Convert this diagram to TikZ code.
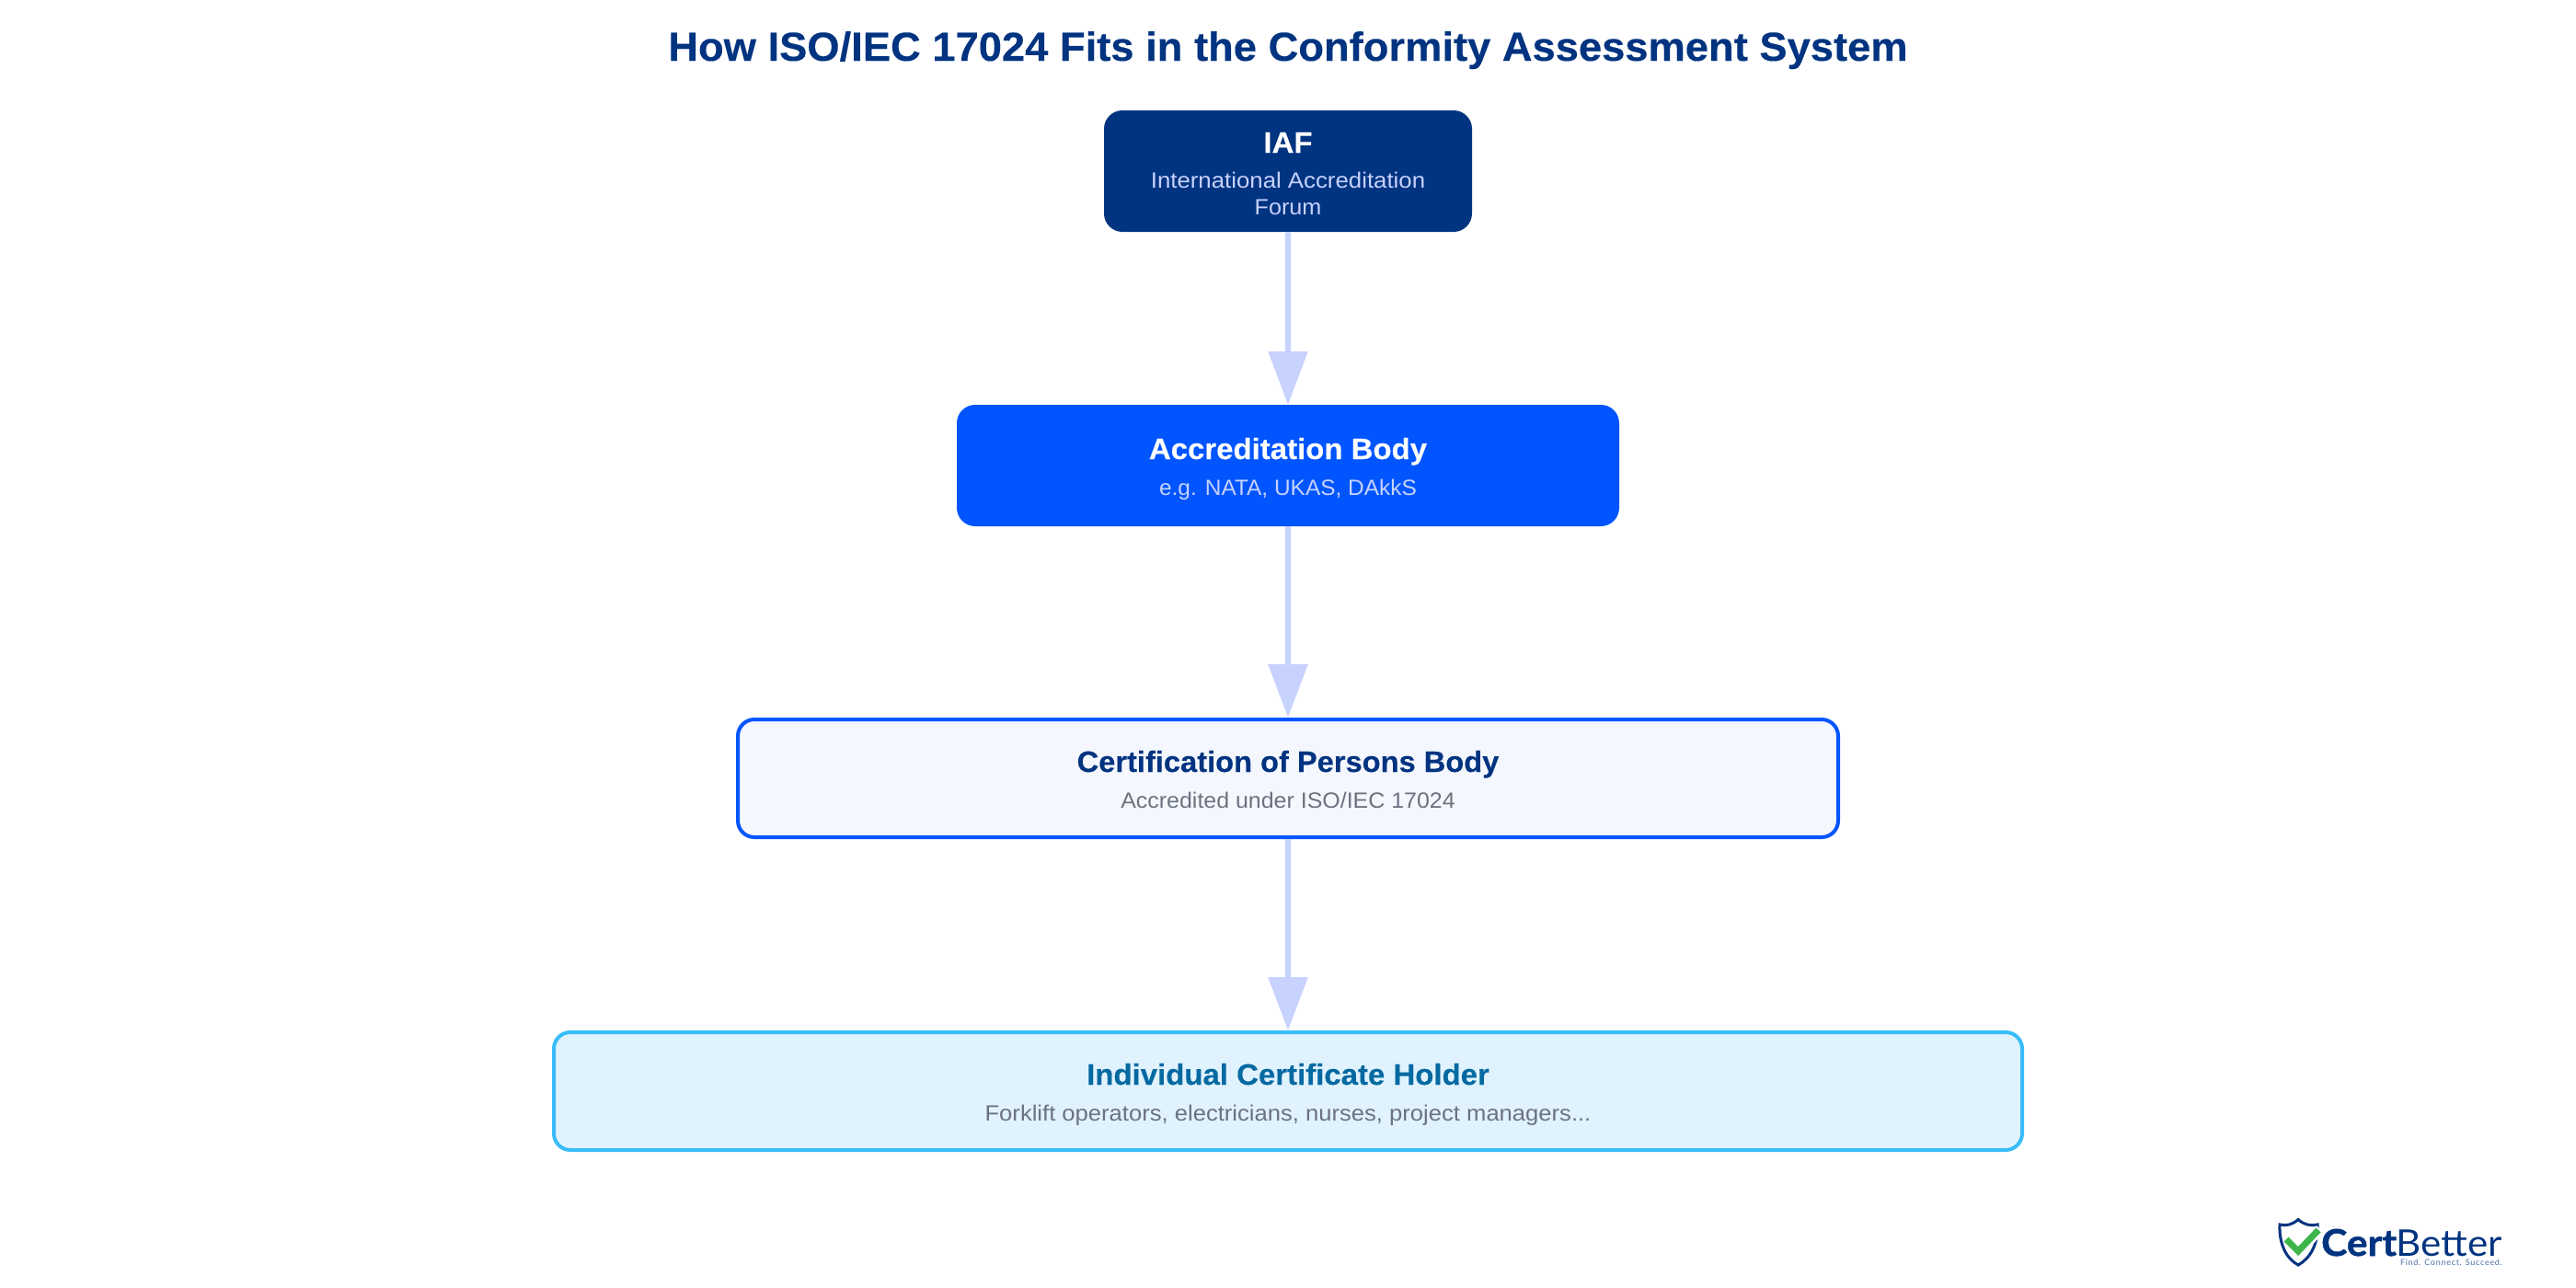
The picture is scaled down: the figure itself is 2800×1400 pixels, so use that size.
\documentclass[tikz,border=0pt]{standalone}
\usepackage{fontspec}
\setmainfont{Liberation Sans}
\newfontfamily\headfam{Liberation Sans Bold}[FakeStretch=1.03,FakeBold=0.25]
\newfontfamily\subfam{Liberation Sans}[FakeStretch=1.05]
\newfontfamily\logofont{Lato}[FakeStretch=1.05]
\newfontfamily\logoboldfont{Lato Bold}[FakeStretch=1.06,FakeBold=1.2]
\newfontfamily\tagfont{Lato}[LetterSpace=8]
\usetikzlibrary{arrows.meta}
\definecolor{navy}{HTML}{003380}
\definecolor{brightblue}{HTML}{0055FF}
\definecolor{paleblue}{HTML}{C7D2FE}
\definecolor{certfill}{HTML}{F5F7FF}
\definecolor{holderfill}{HTML}{E0F2FE}
\definecolor{holderline}{HTML}{38BDF8}
\definecolor{holdertext}{HTML}{0369A1}
\definecolor{greytext}{HTML}{6B7280}
\definecolor{logogreen}{HTML}{3DB54A}
\definecolor{tagblue}{HTML}{4A6FA5}
\tikzset{
  x=1pt,y=-1pt,
  flatbox/.style={rounded corners=20pt,minimum height=132pt,inner sep=0pt},
  linedbox/.style={rounded corners=18pt,minimum height=128pt,inner sep=0pt,line width=4pt},
  headtext/.style={anchor=base,inner sep=0pt,font=\headfam\fontsize{32}{38}\selectfont},
  subtext/.style={anchor=base,inner sep=0pt,font=\subfam\fontsize{24}{30}\selectfont},
  flow/.style={draw=paleblue,line width=6pt,-{Triangle[length=58pt,width=42pt,fill=paleblue]}},
}
\begin{document}
\begin{tikzpicture}
\useasboundingbox[fill=white] (0,0) rectangle (2800,1400);
\node[text=navy,font=\headfam\fontsize{44}{52}\selectfont,anchor=base,inner sep=0pt] (title) at (1400,66) {How ISO/IEC 17024 Fits in the Conformity Assessment System};
\node[flatbox,minimum width=400pt,fill=navy] (iaf) at (1400,186) {};
\node[headtext,text=white] (iafh) at (1400,166) {IAF};
\node[subtext,text=paleblue] (iafs) at (1400,204) {\scalebox{1.024}[1]{International Accreditation}};
\node[subtext,text=paleblue] (iaft) at (1400,233) {Forum};
\node[flatbox,minimum width=720pt,fill=brightblue] (ab) at (1400,506) {};
\node[headtext,text=white] (abh) at (1400,499) {Accreditation Body};
\node[subtext,text=paleblue] (abs) at (1400,538) {\scalebox{0.97}[1]{e.g. NATA, UKAS, DAkkS}};
\node[linedbox,minimum width=1196pt,fill=certfill,draw=brightblue] (cpb) at (1400,846) {};
\node[headtext,text=navy] (cpbh) at (1400,839) {\scalebox{0.99}[1]{Certification of Persons Body}};
\node[subtext,text=greytext] (cpbs) at (1400,878) {\scalebox{0.99}[1]{Accredited under ISO/IEC 17024}};
\node[linedbox,minimum width=1596pt,fill=holderfill,draw=holderline] (ich) at (1400,1186) {};
\node[headtext,text=holdertext] (ichh) at (1400,1179) {Individual Certificate Holder};
\node[subtext,text=greytext] (ichs) at (1400,1218) {\scalebox{1.016}[1]{Forklift operators, electricians, nurses, project managers...}};
\draw[flow] (iaf.south) -- (ab.north);
\draw[flow] (ab.south) -- (cpb.north);
\draw[flow] (cpb.south) -- (ich.north);
% logo
\draw[navy,line width=3pt,fill=white,line join=miter] (2498,1325.5) .. controls (2492,1331) and (2485,1333) .. (2478,1331) .. controls (2477,1352) and (2485,1368) .. (2498,1375) .. controls (2511,1368) and (2520,1352) .. (2519,1331) .. controls (2511,1333) and (2504,1331) .. (2498,1325.5) -- cycle;
\draw[white,line width=11pt] (2499,1360) -- (2522,1336);
\draw[logogreen,line width=7pt] (2485,1347) -- (2498,1360) -- (2520,1337);
\node[anchor=base west,inner sep=0pt,text=navy,font=\logoboldfont\fontsize{40}{40}\selectfont] (logoa) at (2523,1365) {Cert};
\node[anchor=base east,inner sep=0pt,text=navy,font=\logofont\fontsize{40}{40}\selectfont] (logob) at (2720,1365) {Better};
\node[anchor=base east,inner sep=0pt,text=tagblue,font=\tagfont\fontsize{9}{10}\selectfont] (tag) at (2720,1375) {Find. Connect. Succeed.};
\end{tikzpicture}
\end{document}
